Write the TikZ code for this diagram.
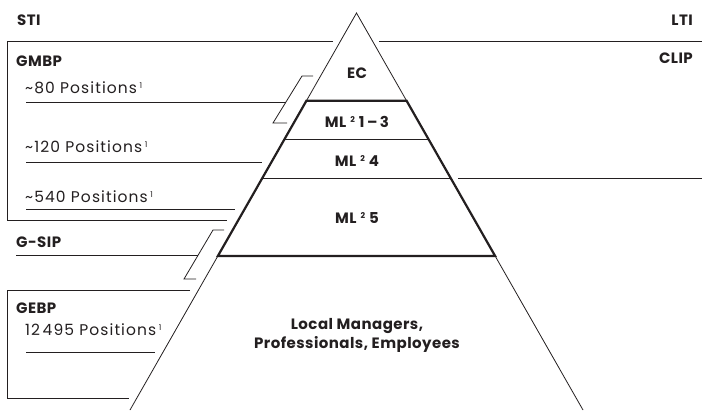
\documentclass[tikz,border=0pt]{standalone}
\usepackage{fontspec}
\setmainfont{Poppins}
\usetikzlibrary{calc}
\definecolor{ink}{RGB}{35,31,32}
\newcommand{\supnum}[1]{\raisebox{0.65ex}{\fontsize{8}{9}\selectfont #1}}
\begin{document}
\begin{tikzpicture}[x=1pt,y=-1pt,
  thin line/.style={draw=ink,line width=0.8pt},
  thick line/.style={draw=ink,line width=2.2pt},
  label/.style={text=ink,font=\fontsize{15}{17}\selectfont\bfseries\addfontfeature{LetterSpace=3},inner sep=0pt},
  count/.style={text=ink,font=\fontsize{15.5}{17}\selectfont\addfontfeature{LetterSpace=7},inner sep=0pt,anchor=west},
  level/.style={text=ink,font=\fontsize{15}{19}\selectfont\bfseries\addfontfeature{LetterSpace=3},inner sep=0pt,align=center}]
\useasboundingbox (0,0) rectangle (702,410);

% pyramid corners
\coordinate (apex) at (356.5,13);
\coordinate (bl) at (130,410);
\coordinate (br) at (583,410);
% level boundaries along the two sides
\coordinate (l1) at ($(apex)!0.2209!(bl)$);
\coordinate (r1) at ($(apex)!0.2209!(br)$);
\coordinate (l2) at ($(apex)!0.3174!(bl)$);
\coordinate (r2) at ($(apex)!0.3174!(br)$);
\coordinate (l3) at ($(apex)!0.4169!(bl)$);
\coordinate (r3) at ($(apex)!0.4169!(br)$);
\coordinate (l4) at ($(apex)!0.6121!(bl)$);
\coordinate (r4) at ($(apex)!0.6121!(br)$);

% pyramid outline
\draw[thin line] (bl) -- (apex) -- (br);
\draw[thick line,line join=miter] (l4) -- (l1) -- (r1) -- (r4) -- cycle;
\draw[thin line] (l2) -- (r2);
\draw[thin line] (l3) -- (r3);

% pyramid levels
\node[level] (ec) at (357,73) {EC};
\node[level] (ml13) at (357,122) {ML\hspace{4pt}\supnum{2}\hspace{4pt}1\,–\,3};
\node[level] (ml4) at (357,161) {ML\hspace{4pt}\supnum{2}\hspace{4pt}4};
\node[level] (ml5) at (357,218) {ML\hspace{4pt}\supnum{2}\hspace{4pt}5};
\node[level] (local) at (357,335) {Local Managers,\\Professionals, Employees};

% plan headings
\node[label,anchor=west] (sti) at (17,20) {STI};
\node[label,anchor=east] (lti) at (693,20) {LTI};
\node[label,anchor=east] (clip) at (693,58) {CLIP};
\node[label,anchor=west] (gmbp) at (16,61) {GMBP};
\node[label,anchor=west] (gsip) at (16,242) {G-SIP};
\node[label,anchor=west] (gebp) at (16,308) {GEBP};

% position counts
\node[count] (p80) at (25,88) {\textasciitilde80 Positions\,\supnum{1}};
\node[count] (p120) at (25,147) {\textasciitilde120 Positions\,\supnum{1}};
\node[count] (p540) at (25,197) {\textasciitilde540 Positions\,\supnum{1}};
\node[count] (p12k) at (25,330) {12\,495 Positions\,\supnum{1}};

% GMBP frame and its rules
\draw[thin line] (333,41) -- (7,41) -- (7,220) -- (227,220);
\draw[thin line] (379,41) -- (702,41);
\draw[thin line] (26,102) -- (286,102);
\draw[thin line] (26,162) -- (262,162);
\draw[thin line] (26,209) -- (235,209);
\draw[thin line] (458,178.5) -- (702,178.5);

% G-SIP rule and GEBP frame
\draw[thin line] (16,255) -- (198,255);
\draw[thin line] (190,290) -- (7,290) -- (7,398) -- (129,398);
\draw[thin line] (26,352) -- (155,352);

% brackets
\draw[thin line] (313,76) -- (302,76) -- (273,123) -- (287,123);
\draw[thin line] (224,230) -- (213,230) -- (184,279) -- (196,279);
\end{tikzpicture}
\end{document}
